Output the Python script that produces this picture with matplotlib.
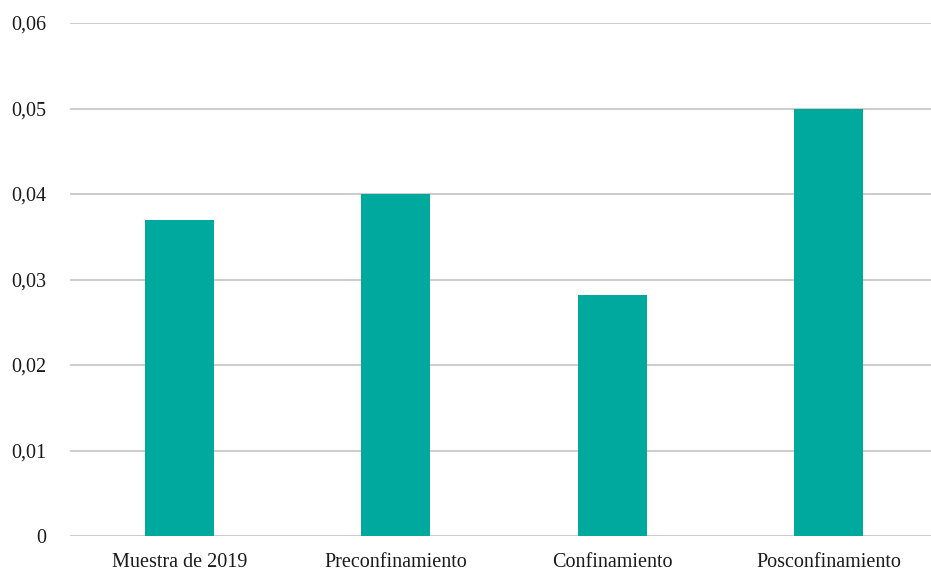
import matplotlib
matplotlib.use("Agg")
import matplotlib.pyplot as plt
from matplotlib.ticker import FuncFormatter

categories = ['Muestra de 2019', 'Preconfinamiento', 'Confinamiento', 'Posconfinamiento']
values = [0.037, 0.040, 0.0282, 0.050]
yticks = [0, 0.01, 0.02, 0.03, 0.04, 0.05, 0.06]

plt.rcParams['font.family'] = ['Liberation Serif', 'DejaVu Serif']

fig = plt.figure(figsize=(9.31, 5.73), dpi=100)
ax = fig.add_axes([70 / 931, 37 / 573, 861 / 931, 513 / 573])

x = range(len(categories))
ax.bar(x, values, width=0.32, color='#00A99D', zorder=3)

ax.set_ylim(0, 0.06)
ax.set_yticks(yticks)
ax.yaxis.set_major_formatter(FuncFormatter(
    lambda v, p: '0' if v == 0 else ('%.2f' % v).replace('.', ',')))
ax.set_xticks(list(x))
ax.set_xticklabels(categories)
ax.set_xlim(-0.506, 3.474)

ax.grid(axis='y', color='#C8C8C8', linewidth=1.3, zorder=0)
for s in ax.spines.values():
    s.set_visible(False)
ax.tick_params(axis='both', length=0, labelsize=14.5, colors='#1a1a1a')
ax.tick_params(axis='y', pad=17)
ax.tick_params(axis='x', pad=12.5)

fig.savefig('out.png', dpi=100)
